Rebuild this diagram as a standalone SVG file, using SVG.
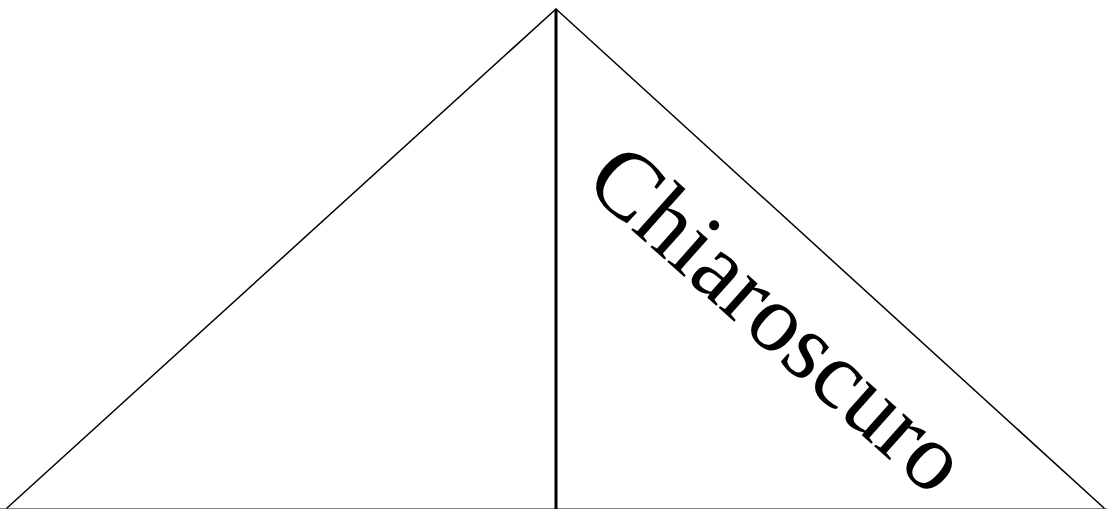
<svg xmlns="http://www.w3.org/2000/svg" width="1107" height="509" viewBox="0 0 1107 509">
<style>
.edge{stroke:#000;stroke-width:1.5;fill:none;stroke-linecap:round}
.label{font-family:'Liberation Serif','Times New Roman',Times,serif;font-size:96px;fill:#000}
</style>
<rect width="1107" height="509" fill="#fff"/>
<g id="connectors">
<line class="edge" x1="7" y1="508" x2="556" y2="9"/>
<line class="edge" x1="556" y1="9" x2="1104" y2="508"/>
<line x1="556" y1="9" x2="556" y2="509" stroke="#000" stroke-width="3"/>
<line x1="0" y1="509" x2="1107" y2="509" stroke="#000" stroke-width="1.2"/>
</g>
<g id="label">
<text class="label" transform="translate(582,186) rotate(41.7)">Chiaroscuro</text>
</g>
</svg>
